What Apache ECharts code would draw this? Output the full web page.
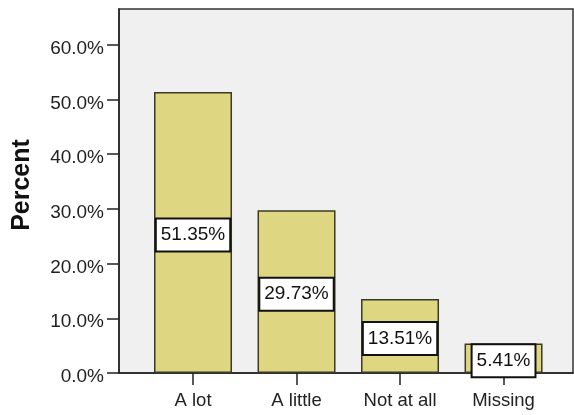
<!DOCTYPE html>
<html>
<head>
<meta charset="utf-8">
<script src="https://cdn.jsdelivr.net/npm/echarts@6/dist/echarts.min.js"></script>
<style>
  html, body { margin: 0; padding: 0; background: #ffffff; }
  #chart { width: 574px; height: 415px; }
</style>
</head>
<body>
<div id="chart"></div>
<script>
// Response categories and their share of respondents (percent)
const categories = ['A lot', 'A little', 'Not at all', 'Missing'];
const percents = [51.35, 29.73, 13.51, 5.41];
const yTicks = [0, 10, 20, 30, 40, 50, 60];

const FONT = 'Arial, "Liberation Sans", sans-serif';
const catIndex = categories.map((_, i) => i);

const chart = echarts.init(document.getElementById('chart'), null, { renderer: 'canvas' });

chart.setOption({
  animation: false,
  backgroundColor: '#ffffff',
  grid: {
    left: 119, right: 1, top: 9, bottom: 42,
    show: true,
    backgroundColor: '#f0f0f0',
    borderColor: '#333333',
    borderWidth: 1.5
  },
  xAxis: {
    type: 'value',
    min: -0.715,
    max: 3.671,
    splitLine: { show: false },
    axisLine: { show: true, onZero: false, lineStyle: { color: '#222222', width: 1.5 } },
    axisTick: { show: true, customValues: catIndex, length: 12, lineStyle: { color: '#222222', width: 1.5 } },
    axisLabel: {
      customValues: catIndex,
      formatter: v => categories[Math.round(v)] || '',
      color: '#222222', fontFamily: FONT, fontSize: 18.5, margin: 18
    }
  },
  yAxis: {
    type: 'value',
    min: 0,
    max: 66.5,
    splitLine: { show: false },
    name: 'Percent',
    nameLocation: 'middle',
    nameRotate: 90,
    nameGap: 84,
    nameTextStyle: {
      fontFamily: FONT, fontSize: 25, fontWeight: 'bold', color: '#111111',
      padding: [0, 0, 0, 12]
    },
    axisLine: { show: true, onZero: false, lineStyle: { color: '#222222', width: 1.5 } },
    axisTick: { show: true, customValues: yTicks, length: 12, lineStyle: { color: '#222222', width: 1.5 } },
    axisLabel: {
      customValues: yTicks,
      formatter: v => v.toFixed(1) + '%',
      color: '#222222', fontFamily: FONT, fontSize: 19, margin: 15,
      verticalAlign: 'top',
      lineHeight: 8
    }
  },
  series: [{
    type: 'bar',
    barWidth: 78,
    data: percents.map((p, i) => [catIndex[i], p]),
    itemStyle: { color: '#dfd682', borderColor: '#3a3a26', borderWidth: 1.5 },
    label: {
      show: true,
      position: 'inside',
      offset: [0, 2.5],
      formatter: p => p.value[1].toFixed(2) + '%',
      color: '#111111',
      fontFamily: FONT,
      fontSize: 19,
      backgroundColor: '#ffffff',
      borderColor: '#111111',
      borderWidth: 2,
      padding: [6, 4]
    }
  }]
});
</script>
</body>
</html>
